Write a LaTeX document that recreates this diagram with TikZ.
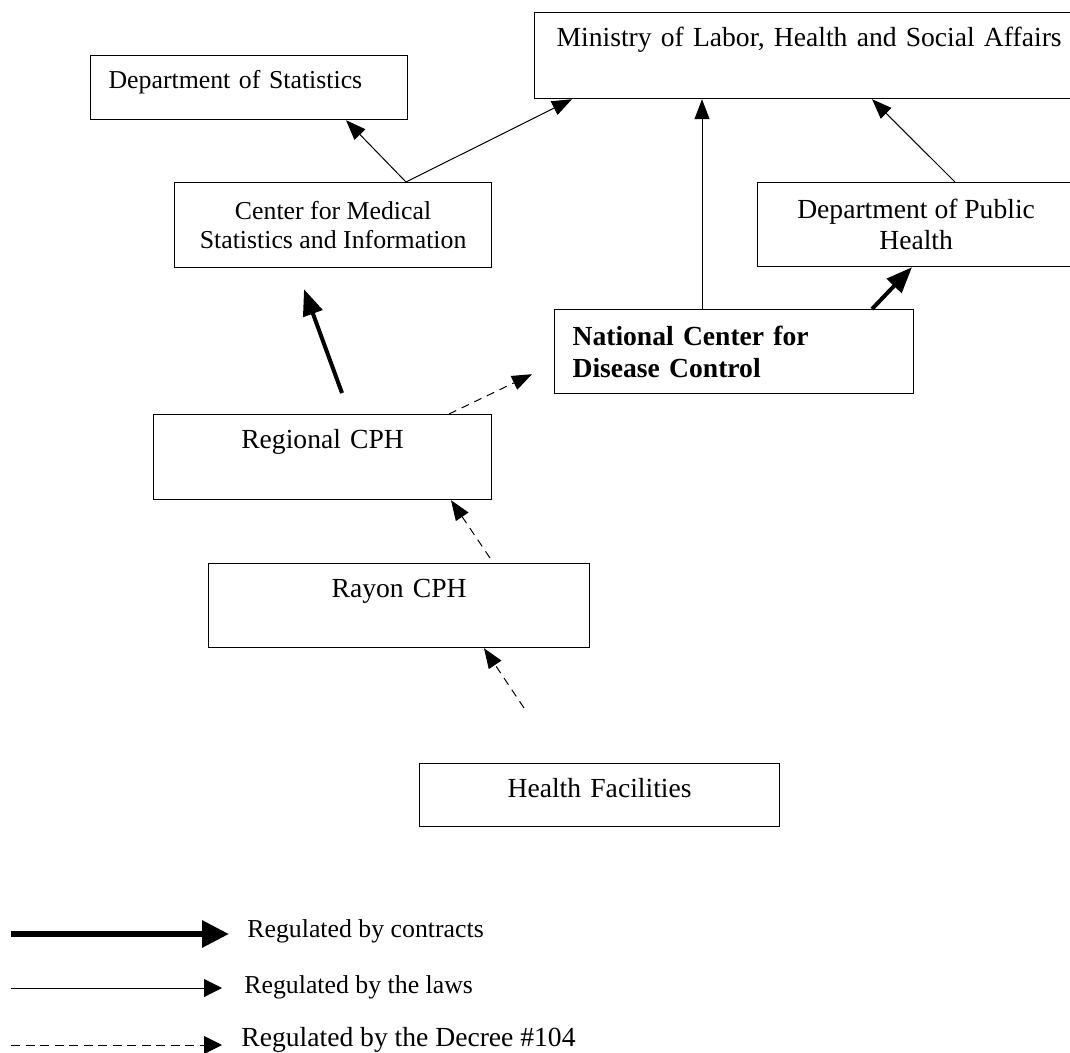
\documentclass[tikz,border=0pt]{standalone}
\usepackage{fontspec}
\setmainfont{Liberation Serif}
\usetikzlibrary{calc,arrows.meta}

\tikzset{
	box/.style={draw, line width=0.6pt, inner sep=0pt, anchor=north west,
		font=\fontsize{13.8}{15}\selectfont},
	small/.style={font=\fontsize{12.9}{14.5}\selectfont},
	law/.style={line width=0.5pt, -{Triangle[length=10pt,width=7.5pt]}},
	contract/.style={line width=2pt, -{Triangle[length=13pt,width=10pt]}},
	decree/.style={line width=0.5pt, dash pattern=on 4pt off 3pt,
		-{Triangle[length=10pt,width=7.5pt]}},
	legtext/.style={anchor=west, inner sep=0pt, font=\fontsize{12.9}{14}\selectfont}
}

\begin{document}
\begin{tikzpicture}[x=0.5pt, y=-0.5pt]

	\useasboundingbox (0,0) rectangle (1070,1053);

	% boxes
	\node[box, text width=265pt, inner xsep=11pt, align=left,
		text height=17pt, text depth=26pt] (min) at (534,12)
		{Ministry of Labor, Health and Social Affairs};
	\node[box, small, text width=140.5pt, inner xsep=9pt, align=left,
		text height=16.5pt, text depth=15.5pt] (stats) at (90,55)
		{Department of Statistics};
	\node[box, small, minimum width=158.5pt, minimum height=42.5pt, align=center] (cms) at (174,182)
		{Center for Medical\\Statistics and Information};
	\node[box, minimum width=158.5pt, minimum height=42pt, align=center,
		font=\fontsize{13.8}{15.5}\selectfont] (dph) at (757,182)
		{Department of Public\\Health};
	\node[box, text width=161.5pt, inner xsep=9pt, minimum height=42pt, align=left,
		font=\fontsize{13.8}{16}\selectfont\bfseries] (ncdc) at (554,309)
		{National Center for\\Disease Control};
	\node[box, text width=169pt, align=center, text height=17pt, text depth=25.5pt] (reg) at (153,414)
		{Regional CPH};
	\node[box, text width=190.5pt, align=center, text height=17pt, text depth=25pt] (ray) at (208,563)
		{Rayon CPH};
	\node[box, text width=180pt, align=center, text height=17pt, text depth=14.5pt] (hf) at (419,763)
		{Health Facilities};

	% arrow ends
	\coordinate (c1) at ($(cms.north west)+(232,0)$);
	\coordinate (n1) at ($(ncdc.north west)+(148,0)$);
	\coordinate (n2) at ($(ncdc.north west)+(318,0)$);
	\coordinate (r1) at ($(reg.north west)+(189,-21)$);
	\coordinate (r2) at ($(reg.north west)+(296,0)$);
	\coordinate (y1) at ($(ray.north west)+(282,-5)$);
	\coordinate (h1) at ($(hf.north west)+(105,-55)$);

	% regulated by the laws
	\draw[law] (c1) -- ($(stats.south west)+(256,0)$);
	\draw[law] (c1) -- ($(min.south west)+(38,0)$);
	\draw[law] (n1) -- (n1 |- min.south);
	\draw[law] ($(dph.north west)+(198,0)$) -- ($(min.south west)+(338,0)$);

	% regulated by contracts
	\draw[contract] (n2) -- ($(dph.south west)+(155,0)$);
	\draw[contract] (r1) -- ($(cms.south west)+(130,21)$);

	% regulated by the decree
	\draw[decree] (r2) -- ($(ncdc.south west)+(-22,-20)$);
	\draw[decree] (y1) -- ($(reg.south west)+(298,0)$);
	\draw[decree] (h1) -- ($(ray.south west)+(276,0)$);

	% legend
	\node[legtext] (lcon) at (247,931) {Regulated by contracts};
	\node[legtext] (llaw) at (244,987) {Regulated by the laws};
	\node[legtext, font=\fontsize{13.8}{15}\selectfont] (ldec) at (241,1040) {Regulated by the Decree \#104};

	\coordinate (k1) at (11,934);
	\coordinate (k2) at (11,988);
	\coordinate (k3) at (11,1045);

	\draw[contract, line width=3pt, -{Triangle[length=13.5pt,width=13pt]}]
		(k1) -- ($(lcon.west)+(-18,3)$);
	\draw[law, -{Triangle[length=9pt,width=9pt]}] (k2) -- ($(llaw.west)+(-22,1)$);
	\draw[decree, dash pattern=on 4.5pt off 2.75pt, -{Triangle[length=9pt,width=9pt]}]
		(k3) -- ($(ldec.west)+(-19,5)$);

\end{tikzpicture}
\end{document}
